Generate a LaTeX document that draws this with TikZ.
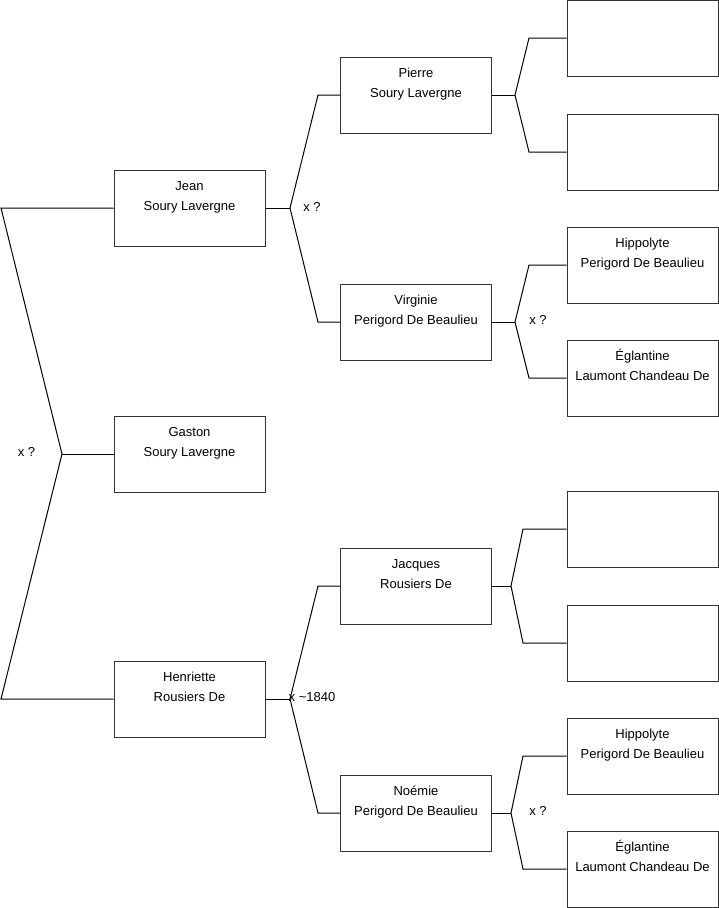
\documentclass[tikz,border=0pt]{standalone}
\usepackage{fontspec}
\setmainfont{Liberation Sans}
\usetikzlibrary{positioning}

\tikzset{
  person/.style={draw=black!80, line width=1pt, minimum width=151pt, minimum height=76pt,
    inner sep=0pt, label={[who]north:{#1}}},
  person/.default={},
  who/.style={anchor=base, yshift=-40.5pt, align=center, inner sep=0pt,
    font=\fontsize{13}{20}\selectfont},
  link/.style={draw=black, line width=1pt},
  union/.style={inner sep=0pt, font=\fontsize{13}{16}\selectfont}
}

\begin{document}
\begin{tikzpicture}[x=1pt, y=-1pt]
  \useasboundingbox (0,0) rectangle (719,908);

  % Children
  \node[person={Jean\\Soury Lavergne}] (jean) at (189.5,208) {};
  \node[person={Gaston\\Soury Lavergne}] (gaston) at (189.5,454) {};
  \node[person={Henriette\\Rousiers De}] (henriette) at (189.5,699) {};

  % Parents
  \node[person={Pierre\\Soury Lavergne}] (pierre) at (416,95) {};
  \node[person={Virginie\\Perigord De Beaulieu}] (virginie) at (416,322) {};
  \node[person={Jacques\\Rousiers De}] (jacques) at (416,586) {};
  \node[person={Noémie\\Perigord De Beaulieu}] (noemie) at (416,813) {};

  % Grand-parents
  \node[person] (pierrepa) at (642.5,38) {};
  \node[person] (pierrema) at (642.5,152) {};
  \node[person={Hippolyte\\Perigord De Beaulieu}] (hippolyteA) at (642.5,265) {};
  \node[person={Églantine\\Laumont Chandeau De}] (eglantineA) at (642.5,378) {};
  \node[person] (jacquespa) at (642.5,529) {};
  \node[person] (jacquesma) at (642.5,643) {};
  \node[person={Hippolyte\\Perigord De Beaulieu}] (hippolyteB) at (642.5,756) {};
  \node[person={Églantine\\Laumont Chandeau De}] (eglantineB) at (642.5,869) {};

  % Jean x Henriette
  \coordinate (topend) at (1,208);
  \coordinate (fork0) at (62,454);
  \coordinate (botend) at (1,699);
  \draw[link] (jean.west) -- (topend) -- (fork0) -- (botend) -- (henriette.west);
  \draw[link] (fork0) -- (gaston.west);
  \node[union] (u0) at (26.5,452) {x ?};

  % Pierre x Virginie
  \coordinate (forkJ) at (290,208);
  \coordinate (jUp) at (318,95);
  \coordinate (jDown) at (318,322);
  \draw[link] (jean.east) -- (forkJ);
  \draw[link] (pierre.west) -- (jUp) -- (forkJ) -- (jDown) -- (virginie.west);
  \node[union] (uJ) at (312,207) {x ?};

  % Jacques x Noemie
  \coordinate (forkH) at (290,699);
  \coordinate (hUp) at (318,586);
  \coordinate (hDown) at (318,813);
  \draw[link] (henriette.east) -- (forkH);
  \draw[link] (jacques.west) -- (hUp) -- (forkH) -- (hDown) -- (noemie.west);
  \node[union] (uH) at (312,697) {x \textasciitilde1840};

  % parents of Pierre
  \coordinate (forkP) at (515,95);
  \coordinate (pUp) at (529,38);
  \coordinate (pDown) at (529,152);
  \draw[link] (pierre.east) -- (forkP);
  \draw[link] (pierrepa.west) -- (pUp) -- (forkP) -- (pDown) -- (pierrema.west);

  % parents of Virginie
  \coordinate (forkV) at (515,322);
  \coordinate (vUp) at (529,265);
  \coordinate (vDown) at (529,378);
  \draw[link] (virginie.east) -- (forkV);
  \draw[link] (hippolyteA.west) -- (vUp) -- (forkV) -- (vDown) -- (eglantineA.west);
  \node[union] (uV) at (538,320) {x ?};

  % parents of Jacques
  \coordinate (forkQ) at (511,586);
  \coordinate (qUp) at (523,529);
  \coordinate (qDown) at (523,643);
  \draw[link] (jacques.east) -- (forkQ);
  \draw[link] (jacquespa.west) -- (qUp) -- (forkQ) -- (qDown) -- (jacquesma.west);

  % parents of Noemie
  \coordinate (forkN) at (511,813);
  \coordinate (nUp) at (523,756);
  \coordinate (nDown) at (523,869);
  \draw[link] (noemie.east) -- (forkN);
  \draw[link] (hippolyteB.west) -- (nUp) -- (forkN) -- (nDown) -- (eglantineB.west);
  \node[union] (uN) at (538,811) {x ?};
\end{tikzpicture}
\end{document}
